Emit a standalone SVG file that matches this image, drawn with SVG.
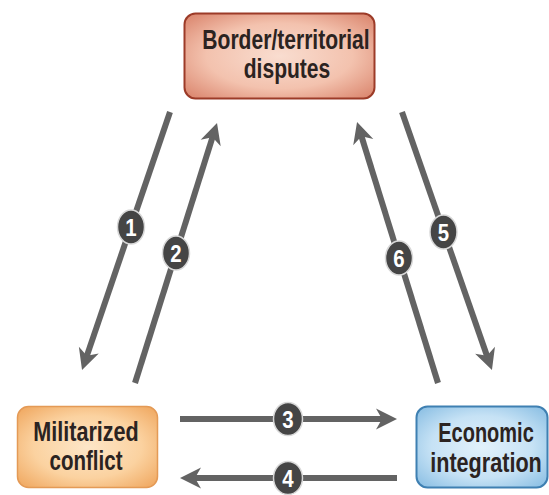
<svg xmlns="http://www.w3.org/2000/svg" width="549" height="495" viewBox="0 0 549 495">
<defs>
<radialGradient id="gRed" cx="50%" cy="50%" r="70%">
<stop offset="0" stop-color="#f9ddd0"/><stop offset="0.55" stop-color="#f3c2ae"/><stop offset="1" stop-color="#d9826a"/>
</radialGradient>
<radialGradient id="gOrange" cx="50%" cy="50%" r="70%">
<stop offset="0" stop-color="#fde6c8"/><stop offset="0.55" stop-color="#fbd2a0"/><stop offset="1" stop-color="#efa55c"/>
</radialGradient>
<radialGradient id="gBlue" cx="50%" cy="50%" r="70%">
<stop offset="0" stop-color="#e2f1fb"/><stop offset="0.55" stop-color="#c6e2f5"/><stop offset="1" stop-color="#86bce2"/>
</radialGradient>
<marker id="ah" markerUnits="userSpaceOnUse" markerWidth="26" markerHeight="26" viewBox="-12 -13 26 26" refX="0" refY="0" orient="auto">
<path d="M12,0 L-9,-10.5 L-3,0 L-9,10.5 Z" fill="#636363"/>
</marker>
<style>
.lbl{font-family:"Liberation Sans",Arial,sans-serif;font-weight:bold;font-size:27px;fill:#2b2321;text-anchor:middle}
.con{stroke:#636363;stroke-width:6;fill:none;marker-end:url(#ah)}
.bd{fill:#454545;stroke:#d8d8d8;stroke-width:1.5}
.num{font-family:"Liberation Sans",Arial,sans-serif;font-weight:bold;font-size:24px;fill:#ffffff;text-anchor:middle}
</style>
</defs>
<rect width="549" height="495" fill="#ffffff"/>
<g id="connectors">
<line class="con" x1="170" y1="112" x2="85.9" y2="358.6"/>
<line class="con" x1="135" y1="383" x2="213.4" y2="134.4"/>
<line class="con" x1="402" y1="112" x2="488" y2="358.7"/>
<line class="con" x1="438" y1="383" x2="360.6" y2="133.5"/>
<line class="con" x1="180" y1="419" x2="385" y2="419"/>
<line class="con" x1="397" y1="478" x2="192" y2="478"/>
<g id="badges">
<ellipse class="bd" cx="131" cy="227" rx="13.5" ry="17"/><text class="num" transform="translate(131,235.5) scale(0.85,1)">1</text>
<ellipse class="bd" cx="176" cy="253" rx="13.5" ry="17"/><text class="num" transform="translate(176,261.5) scale(0.85,1)">2</text>
<ellipse class="bd" cx="288" cy="419" rx="14.5" ry="16.5"/><text class="num" transform="translate(288,427.5) scale(0.85,1)">3</text>
<ellipse class="bd" cx="288" cy="478" rx="14.5" ry="16.5"/><text class="num" transform="translate(288,486.5) scale(0.85,1)">4</text>
<ellipse class="bd" cx="443.5" cy="232" rx="13.5" ry="17"/><text class="num" transform="translate(443.5,240.5) scale(0.85,1)">5</text>
<ellipse class="bd" cx="399" cy="258" rx="13.5" ry="17"/><text class="num" transform="translate(399,266.5) scale(0.85,1)">6</text>
</g>
</g>
<g id="border">
<rect x="184.5" y="13.5" width="190" height="85" rx="11" fill="url(#gRed)" stroke="#9c3b28" stroke-width="2"/>
<text class="lbl" transform="translate(286,49) scale(0.78,1)">Border/territorial</text>
<text class="lbl" transform="translate(287,78) scale(0.78,1)">disputes</text>
</g>
<g id="militarized">
<rect x="17.5" y="406.5" width="140" height="81" rx="11" fill="url(#gOrange)" stroke="#e49a56" stroke-width="1.5"/>
<text class="lbl" transform="translate(86,441) scale(0.8,1)">Militarized</text>
<text class="lbl" transform="translate(86,470) scale(0.76,1)">conflict</text>
</g>
<g id="economic">
<rect x="416.5" y="406.5" width="131" height="81" rx="11" fill="url(#gBlue)" stroke="#3f80b2" stroke-width="2"/>
<text class="lbl" transform="translate(486,442) scale(0.74,1)">Economic</text>
<text class="lbl" transform="translate(486,472) scale(0.8,1)">integration</text>
</g>
</svg>
